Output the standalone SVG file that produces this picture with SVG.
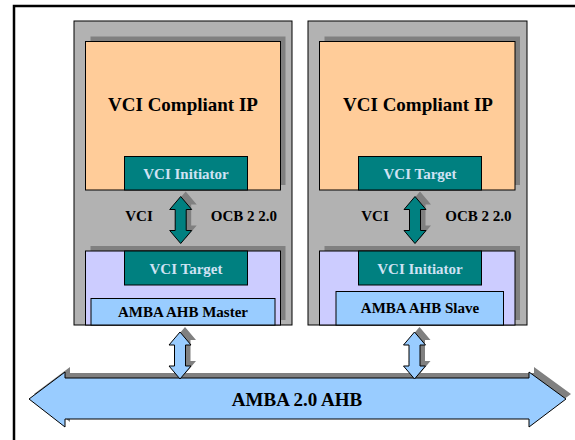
<svg xmlns="http://www.w3.org/2000/svg" width="575" height="440" viewBox="0 0 575 440">
<style>
.panel{fill:#b2b2b2;stroke:#000;stroke-width:1}
.shadow{fill:#808080;stroke:none}
.ip{fill:#ffcc99;stroke:#000;stroke-width:1}
.wrap{fill:#ccccff;stroke:#000;stroke-width:1}
.teal{fill:#008080;stroke:#000;stroke-width:1}
.amba{fill:#99ccff;stroke:#000;stroke-width:1}
text{font-family:"Liberation Serif","Times New Roman",serif;font-weight:bold;text-anchor:middle}
.big{font-size:19px;fill:#000}
.lbl{font-size:15px;fill:#000}
.tl{font-size:15px;fill:#cfe2f3}
</style>
<defs>
<path id="dbl" d="M0,-23.5 L11,-10.5 L5.5,-10.5 L5.5,10.5 L11,10.5 L0,23.5 L-11,10.5 L-5.5,10.5 L-5.5,-10.5 L-11,-10.5 Z"/>
</defs>
<rect x="14" y="6" width="600" height="460" fill="#fff" stroke="#000" stroke-width="2.5"/>

<g id="left-panel">
<rect class="panel" x="74" y="21" width="218" height="304"/>
<rect class="shadow" x="90.5" y="36.5" width="195" height="148.5"/>
<rect class="ip" x="85.5" y="41.5" width="195" height="148.5"/>
<text class="big" x="183" y="111">VCI Compliant IP</text>
<rect class="teal" x="124.5" y="156.5" width="123" height="33.5"/>
<text class="tl" x="186" y="178.5">VCI Initiator</text>
<text class="lbl" x="139" y="220.5">VCI</text>
<text class="lbl" x="244" y="220.5">OCB 2 2.0</text>
<rect class="shadow" x="90.5" y="246" width="195" height="74"/>
<rect class="wrap" x="85.5" y="251" width="195" height="74"/>
<rect class="teal" x="124.5" y="251" width="123" height="34"/>
<text class="tl" x="186" y="273.5">VCI Target</text>
<rect class="amba" x="91" y="298.5" width="184" height="26.5"/>
<text class="lbl" x="183" y="316.5">AMBA AHB Master</text>
</g>

<g id="right-panel">
<rect class="panel" x="308" y="21" width="219" height="304"/>
<rect class="shadow" x="324.5" y="36.5" width="195.5" height="148.5"/>
<rect class="ip" x="319.5" y="41.5" width="195.5" height="148.5"/>
<text class="big" x="418" y="111">VCI Compliant IP</text>
<rect class="teal" x="358.5" y="156.5" width="123" height="33.5"/>
<text class="tl" x="420" y="178.5">VCI Target</text>
<text class="lbl" x="375" y="220.5">VCI</text>
<text class="lbl" x="478.5" y="220.5">OCB 2 2.0</text>
<rect class="shadow" x="324.5" y="246" width="195.5" height="74"/>
<rect class="wrap" x="319.5" y="251" width="195.5" height="74"/>
<rect class="teal" x="358.5" y="251" width="123" height="34"/>
<text class="tl" x="420" y="273.5">VCI Initiator</text>
<rect class="amba" x="336" y="291.5" width="167.5" height="33.5"/>
<text class="lbl" x="420" y="313">AMBA AHB Slave</text>
</g>

<g id="bus">
<polygon class="shadow" points="34,394 70,367 70,373 534,373 534,367 571,394 534,422 534,414 70,414 70,422"/>
<polygon class="amba" points="29,399 65,372 65,378 529,378 529,372 566,399 529,427 529,419 65,419 65,427"/>
<text class="big" x="297" y="405.5">AMBA 2.0 AHB</text>
</g>

<g id="connectors">
<use href="#dbl" class="shadow" transform="translate(185.7,215)"/>
<use href="#dbl" class="teal" transform="translate(180.7,220)"/>
<use href="#dbl" class="shadow" transform="translate(420,215)"/>
<use href="#dbl" class="teal" transform="translate(415,220)"/>
<use href="#dbl" class="shadow" transform="translate(185,350.5)"/>
<use href="#dbl" class="amba" transform="translate(180,355.5)"/>
<use href="#dbl" class="shadow" transform="translate(419.5,350.5)"/>
<use href="#dbl" class="amba" transform="translate(414.5,355.5)"/>
</g>
</svg>
